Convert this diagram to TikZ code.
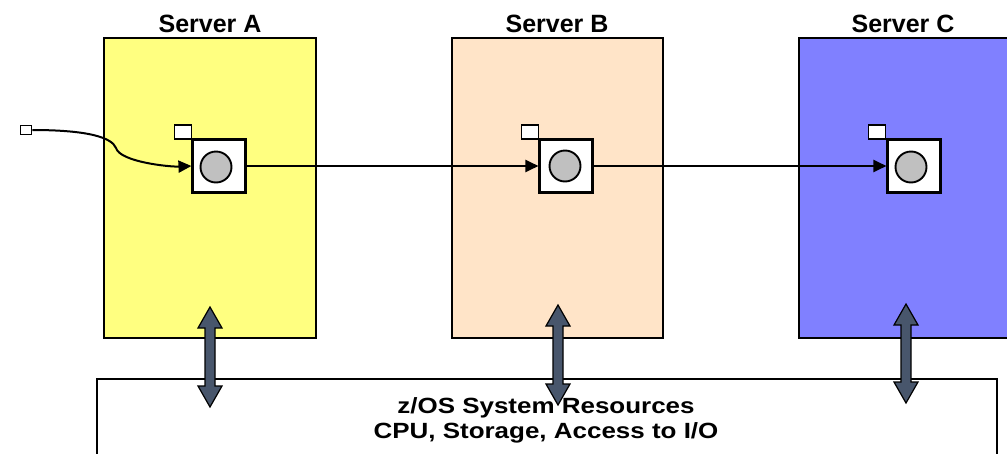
\documentclass[tikz,border=0pt]{standalone}
\usepackage{fontspec}
\setmainfont{Liberation Sans}
\usetikzlibrary{arrows.meta}
\definecolor{srvA}{RGB}{255,255,128}
\definecolor{srvB}{RGB}{255,228,200}
\definecolor{srvC}{RGB}{128,128,255}
\definecolor{pipe}{RGB}{72,86,108}
\definecolor{disc}{RGB}{192,192,192}
\tikzstyle{server}=[draw, line width=1.5pt]
\tikzstyle{title}=[anchor=base, font=\bfseries\fontsize{25}{30}\selectfont]
\tikzstyle{port}=[draw, fill=white, line width=2.1pt, inner sep=0pt, minimum size=53pt]
\tikzstyle{tag}=[draw, fill=white, line width=1.9pt, inner sep=0pt, minimum width=17pt, minimum height=14pt]
\tikzstyle{dot}=[draw, fill=disc, line width=1.9pt, circle, inner sep=0pt, minimum size=31pt]
\tikzstyle{flow}=[line width=2pt, -{Triangle[length=13pt, width=12pt]}]

\begin{document}
\begin{tikzpicture}[x=1pt, y=-1pt]
\useasboundingbox (0,0) rectangle (1007,453);
\clip (0,0) rectangle (1007,453);
% Resources
    \draw[line width=1.2pt] (97,460) -- (97,379) -- (997,379) -- (997,460);
    \node[anchor=base, font=\bfseries\fontsize{22}{26}\selectfont, xscale=1.18, transform shape] (res) at (546,413) {z/OS System Resources};
    \node[anchor=base, font=\bfseries\fontsize{22}{26}\selectfont, xscale=1.18, transform shape] (io) at (546,438) {CPU, Storage, Access to I/O};
% Servers
    \draw[server, fill=srvA] (104,38) rectangle (316,338);
    \draw[server, fill=srvB] (452,38) rectangle (663,338);
    \draw[server, fill=srvC] (799,38) rectangle (1012,338);
    \node[title] (titleA) at (210,32) {Server A};
    \node[title] (titleB) at (557,32) {Server B};
    \node[title] (titleC) at (903,32) {Server C};
% Ports
    \node[port] (portA) at (219,166) {};
    \node[port] (portB) at (566,166) {};
    \node[port] (portC) at (914,166) {};
    \node[tag] (tagA) at (183,132) {};
    \node[tag] (tagB) at (530,132) {};
    \node[tag] (tagC) at (877,132) {};
    \node[dot] (dotA) at (216,167) {};
    \node[dot] (dotB) at (565,166) {};
    \node[dot] (dotC) at (911,167) {};
    \node[draw, fill=white, line width=1.6pt, inner sep=0pt, minimum width=11pt, minimum height=9pt] (entry) at (26,130) {};
% Flow
    \draw[flow] (entry.east) .. controls (90,130) and (112,138) .. (116,148) .. controls (120,162) and (170,167) .. (portA.west);
    \draw[flow] (portA.east) -- (portB.west);
    \draw[flow] (portB.east) -- (portC.west);
% Access
    \foreach \x/\t/\b in {210/307/407, 558/305/405, 906/304/403}
        \draw[fill=pipe, line width=1.2pt] (\x,\t) -- (\x+12,\t+21) -- (\x+5,\t+21) -- (\x+5,\b-21) -- (\x+12,\b-21) -- (\x,\b) -- (\x-12,\b-21) -- (\x-5,\b-21) -- (\x-5,\t+21) -- (\x-12,\t+21) -- cycle;
\end{tikzpicture}
\end{document}
